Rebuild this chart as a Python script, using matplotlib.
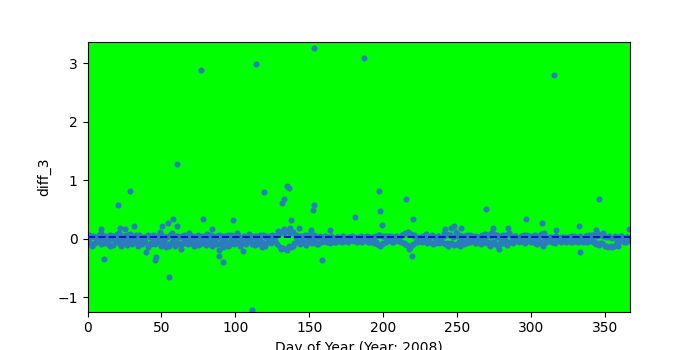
import numpy as np
import matplotlib
matplotlib.use("Agg")
import matplotlib.pyplot as plt

band_a = [
    -0.05, 0.02, -0.12, 0.04, -0.08, 0.01, -0.03, 0.06, -0.10, 0.03,
    -0.06, 0.05, -0.02, -0.09, 0.07, 0.00, -0.11, 0.03, -0.04, 0.08,
    -0.07, 0.02, -0.13, 0.05, -0.01, -0.08, 0.06, -0.04, 0.01, -0.10,
    0.04, -0.06, 0.02, -0.12, 0.07, -0.03, -0.09, 0.03, -0.05, 0.05,
    -0.14, 0.02, -0.07, 0.06, -0.02, -0.10, 0.04, -0.06, 0.01, -0.12,
    0.05, -0.04, -0.15, 0.03, -0.09, 0.07, -0.05, 0.02, -0.13, 0.04,
    -0.08, 0.03, -0.11, 0.05, -0.02, -0.07, 0.06, -0.10, 0.01, -0.04,
    0.05, -0.12, 0.02, -0.06, 0.07, -0.09, 0.00, -0.05, 0.04, -0.11,
    0.03, -0.07, 0.06, -0.13, 0.01, -0.04, 0.05, -0.10, 0.02, -0.08,
    0.04, -0.14, 0.03, -0.06, 0.07, -0.11, -0.02, 0.05, -0.09, 0.02,
    -0.05, 0.06, -0.12, 0.01, -0.07, 0.04, -0.10, 0.03, -0.03, 0.06,
    -0.08, 0.02, -0.11, 0.05, -0.04, -0.09, 0.03, -0.06, 0.07, -0.12,
    0.02, -0.05, 0.04, -0.08, 0.01, -0.03, 0.05, -0.10, 0.08, -0.14,
    0.12, -0.16, 0.10, -0.18, 0.14, -0.12, 0.09, -0.15, 0.11, -0.08,
    0.03, -0.06, 0.05, -0.09, 0.02, -0.04, 0.06, -0.11, 0.01, -0.05,
    0.04, -0.08, 0.07, -0.03, 0.02, -0.10, 0.05, -0.06, 0.01, -0.04,
    0.03, -0.05, 0.02, -0.07, 0.04, -0.02, 0.01, -0.06, 0.03, -0.04,
    0.02, -0.05, 0.04, -0.03, 0.01, -0.06, 0.03, -0.02, 0.05, -0.04,
    0.01, -0.05, 0.03, -0.02, 0.04, -0.06, 0.02, -0.03, 0.01, -0.05,
    0.03, -0.04, 0.02, -0.07, 0.05, -0.10, 0.06, -0.13, 0.04, -0.08,
    0.02, -0.05, 0.04, -0.03, 0.01, -0.06, 0.03, -0.04, 0.05, -0.02,
    0.01, -0.05, 0.06, -0.08, 0.09, -0.11, 0.12, -0.14, 0.08, -0.10,
    0.05, -0.06, 0.03, -0.04, 0.01, -0.05, 0.04, -0.02, 0.06, -0.07,
    0.03, -0.05, 0.07, -0.09, 0.02, -0.04, 0.05, -0.08, 0.01, -0.06,
    0.04, -0.10, 0.08, -0.12, 0.06, -0.07, 0.03, -0.11, 0.05, -0.09,
    0.07, -0.12, 0.02, -0.06, 0.04, -0.08, 0.01, -0.05, 0.06, -0.03,
    0.02, -0.07, 0.05, -0.04, 0.01, -0.09, 0.07, -0.05, 0.03, -0.08,
    0.06, -0.11, 0.04, -0.06, 0.08, -0.09, 0.02, -0.12, 0.05, -0.04,
    0.03, -0.08, 0.06, -0.11, 0.09, -0.05, 0.02, -0.07, 0.04, -0.03,
    0.01, -0.05, 0.03, -0.04, 0.06, -0.08, 0.02, -0.03, 0.05, -0.06,
    0.02, -0.04, 0.07, -0.09, 0.04, -0.05, 0.08, -0.12, 0.03, -0.06,
    0.01, -0.04, 0.03, -0.05, 0.02, -0.07, 0.05, -0.03, 0.01, -0.05,
    0.03, -0.04, 0.02, -0.06, 0.01, -0.03, 0.04, -0.05, 0.02, -0.04,
    0.03, -0.06, 0.05, -0.04, 0.01, -0.03, 0.04, -0.05, 0.06, -0.02,
    0.03, -0.06, 0.08, -0.09, 0.05, -0.11, 0.07, -0.08, 0.04, -0.13,
    0.02, -0.14, 0.03, -0.13, 0.01, -0.12, 0.04, -0.05, 0.02, -0.04,
    0.05, -0.03, 0.01, -0.06, 0.03, -0.02,
]

band_b = [
    0.06, -0.09, 0.03, -0.04, 0.09, -0.07, 0.02, -0.12, 0.05, -0.02,
    0.10, -0.06, 0.04, -0.11, 0.08, -0.03, 0.06, -0.08, 0.02, -0.05,
    0.07, -0.10, 0.05, -0.04, 0.11, -0.08, 0.03, -0.13, 0.09, -0.06,
    0.04, -0.09, 0.06, -0.05, 0.10, -0.07, 0.03, -0.11, 0.05, -0.02,
    0.08, -0.06, 0.04, -0.10, 0.07, -0.03, 0.05, -0.12, 0.06, -0.04,
    0.09, -0.07, 0.03, -0.05, 0.08, -0.10, 0.04, -0.03, 0.06, -0.08,
    0.05, -0.06, 0.07, -0.04, 0.13, -0.17, 0.16, -0.20, 0.18, -0.13,
    0.06, -0.05, 0.04, -0.08, 0.07, -0.03, 0.05, -0.09, 0.03, -0.04,
    0.04, -0.03, 0.02, -0.05, 0.03, -0.02, 0.04, -0.04, 0.02, -0.03,
    0.03, -0.04, 0.02, -0.03, 0.04, -0.05, 0.02, -0.06, 0.07, -0.09,
    0.04, -0.03, 0.05, -0.06, 0.03, -0.04, 0.07, -0.09, 0.10, -0.12,
    0.06, -0.05, 0.03, -0.04, 0.08, -0.06, 0.05, -0.07, 0.04, -0.05,
    0.09, -0.08, 0.06, -0.10, 0.11, -0.06, 0.04, -0.09, 0.07, -0.05,
    0.05, -0.07, 0.03, -0.04, 0.08, -0.06, 0.10, -0.05, 0.06, -0.10,
    0.07, -0.04, 0.09, -0.06, 0.05, -0.03, 0.04, -0.05, 0.06, -0.04,
    0.05, -0.07, 0.03, -0.05, 0.09, -0.04, 0.02, -0.06, 0.04, -0.03,
    0.03, -0.04, 0.02, -0.05, 0.04, -0.03, 0.03, -0.06, 0.05, -0.04,
    0.06, -0.05, 0.09, -0.07, 0.10, -0.12, 0.04, -0.14, 0.03, -0.13,
    0.04, -0.05, 0.03,
]

extra_days = [
    76.5, 113.7, 153.2, 186.9, 315.5, 60.8, 28.6, 20.5, 135.2, 136.0,
    133.0, 131.6, 153.2, 152.5, 119.4, 181.3, 137.6, 197.2, 197.9, 199.3,
    215.5, 220.3, 269.7, 296.8, 346.2, 307.6, 332.6, 78.0, 98.3, 11.0,
    55.0, 45.5, 46.5, 39.5, 89.0, 89.0, 91.8, 111.3, 158.6, 219.6,
    217.5, 278.5, 333.3, 57.8, 54.4, 31.6, 50.5, 22.0, 25.5, 9.0,
    60.7, 84.0, 105.3, 143.0, 151.0, 164.0, 248.0, 245.9, 252.6, 274.0,
    284.6, 242.0, 366.5, 343.7, 316.9, 272.4, 118.3, 63.0,
]
extra_vals = [
    2.89, 2.99, 3.26, 3.09, 2.80, 1.27, 0.82, 0.57, 0.90, 0.86,
    0.68, 0.61, 0.57, 0.49, 0.80, 0.37, 0.31, 0.82, 0.48, 0.24,
    0.67, 0.33, 0.50, 0.33, 0.67, 0.26, 0.22, 0.34, 0.31, -0.34,
    -0.66, -0.37, -0.31, -0.23, -0.20, -0.30, -0.40, -1.22, -0.37, -0.29,
    -0.17, -0.18, -0.22, 0.33, 0.27, 0.22, 0.21, 0.19, 0.16, 0.16,
    0.22, 0.17, -0.21, 0.19, 0.15, 0.15, 0.22, 0.19, 0.18, 0.19,
    0.18, 0.16, 0.17, 0.15, 0.15, -0.12, -0.14, -0.17,
]

mean_line = 0.03

days_a = np.arange(1, len(band_a) + 1)
days_b = np.arange(1, 2 * len(band_b), 2)

fig, ax = plt.subplots(figsize=(7, 3.5), dpi=100)
ax.set_facecolor("#00ff00")
pt = "#2b7bbf"
ms = 19
ax.scatter(days_a, band_a, s=ms, color=pt, linewidths=0, zorder=2)
ax.scatter(days_b, band_b, s=ms, color=pt, linewidths=0, zorder=2)
ax.scatter(extra_days, extra_vals, s=ms, color=pt, linewidths=0, zorder=2)
ax.axhline(mean_line, color="#0a14c8", linestyle="--", linewidth=1.4, zorder=3)

ax.set_xlim(0, 367)
ax.set_ylim(-1.245, 3.36)
ax.set_xlabel("Day of Year (Year: 2008)")
ax.set_ylabel("diff_3")
fig.savefig("out.png", dpi=100)
